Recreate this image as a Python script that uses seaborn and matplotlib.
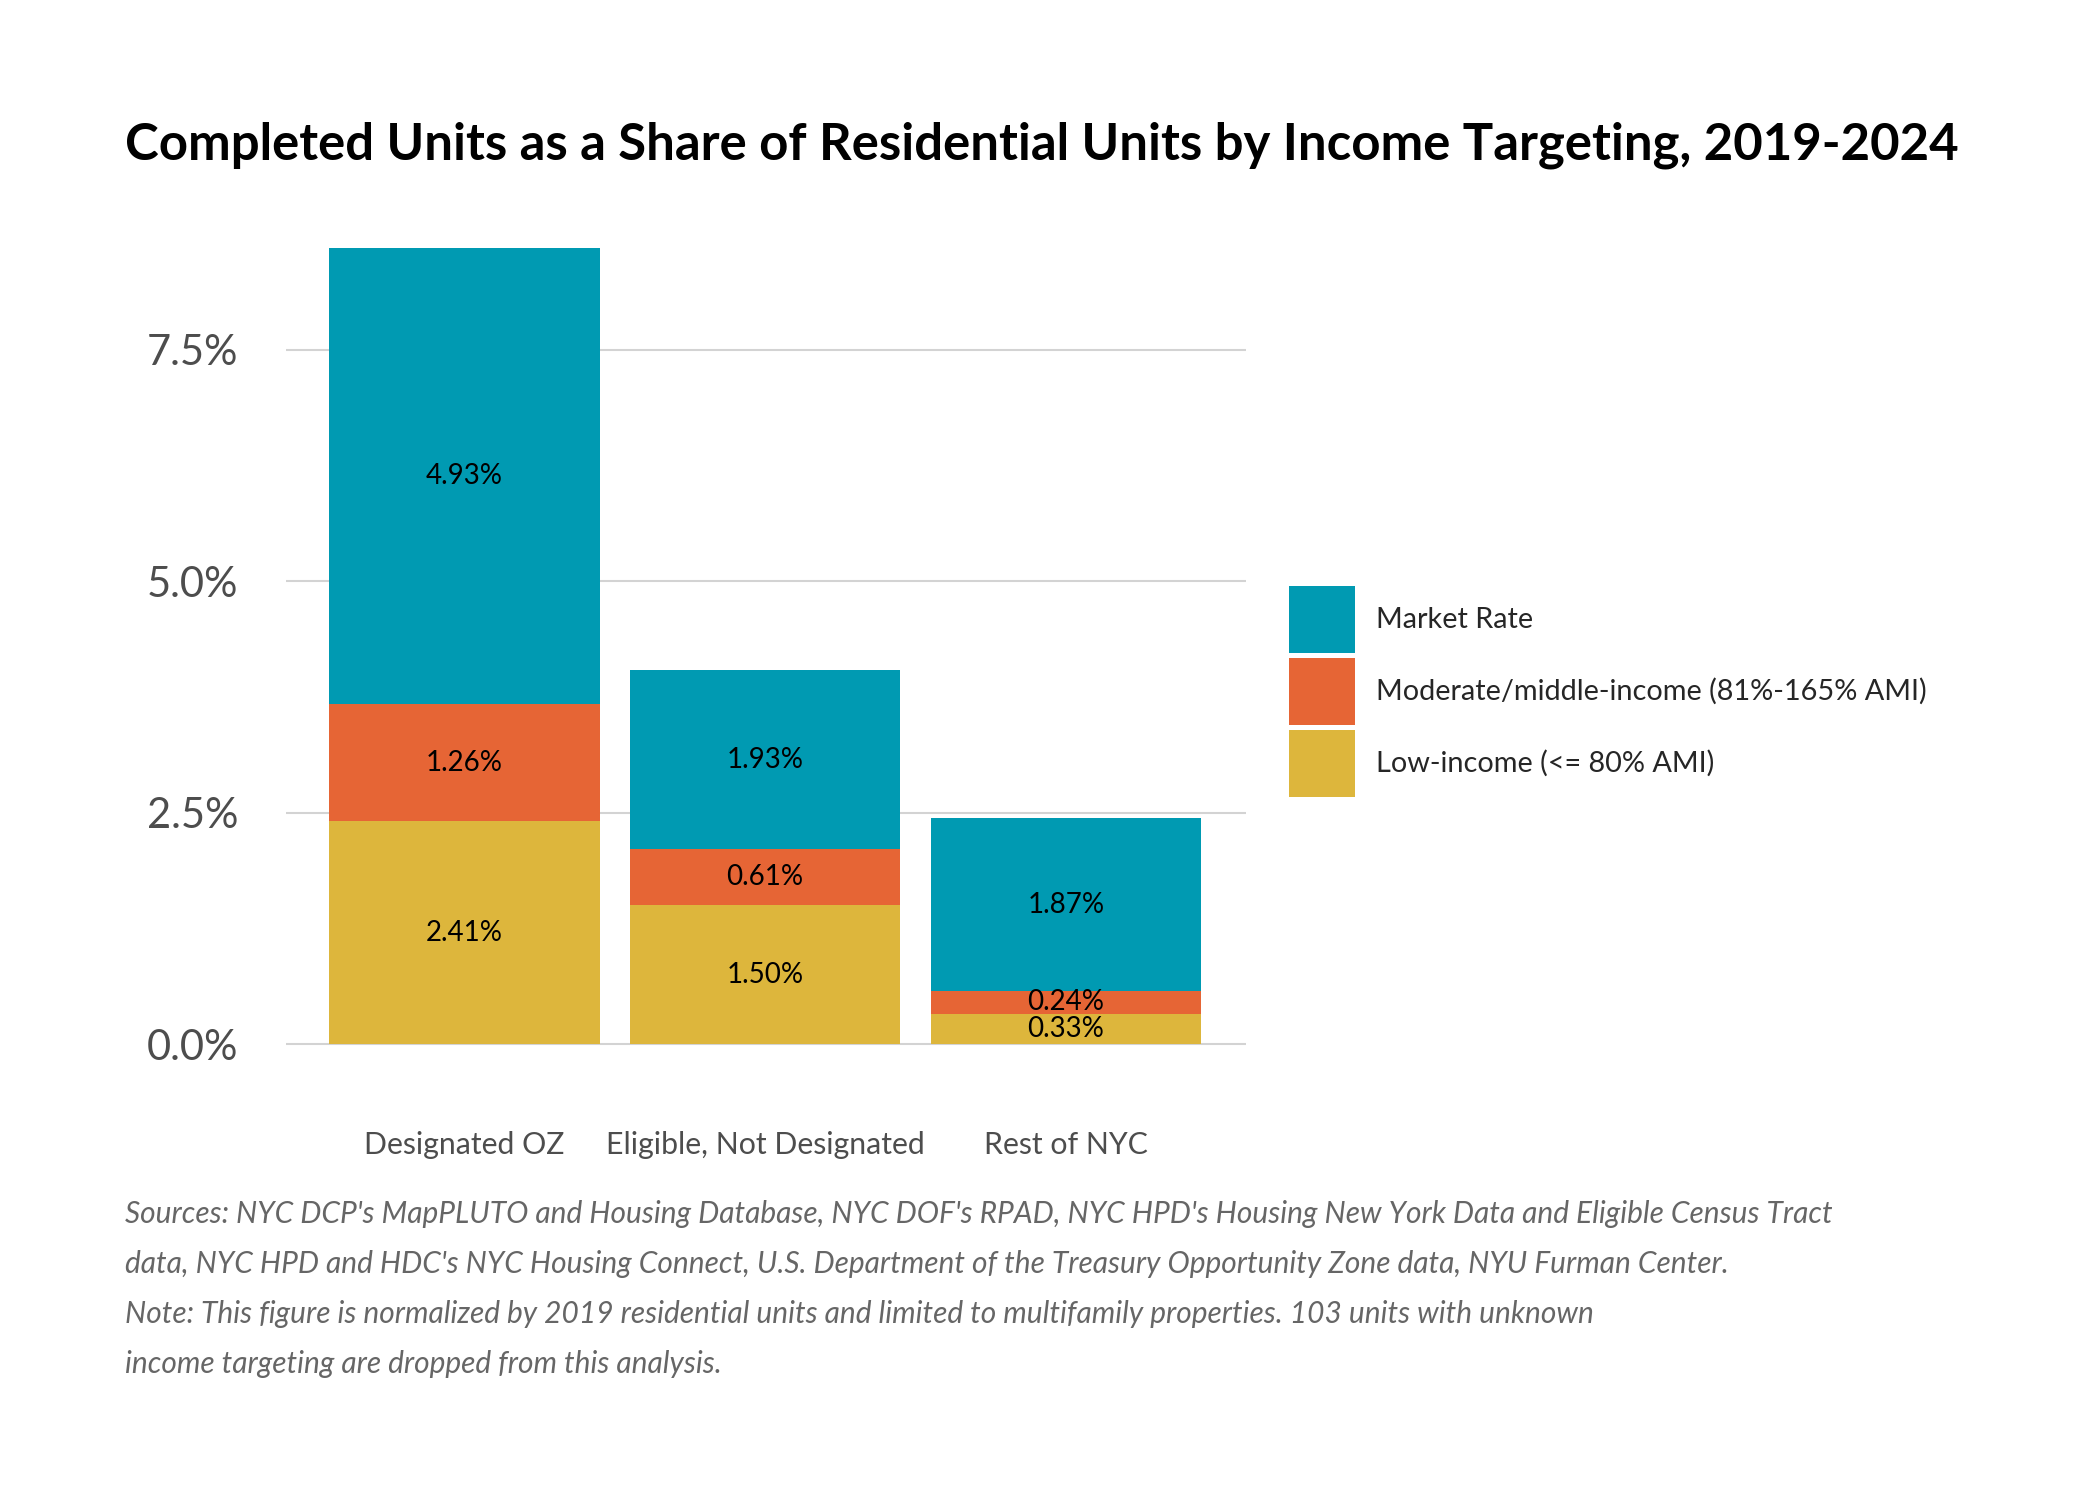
import matplotlib
matplotlib.use("Agg")
import matplotlib.pyplot as plt
import matplotlib.patches as mpatches
import seaborn as sns
import numpy as np
import pandas as pd

CATEGORIES = ["Designated OZ", "Eligible, Not Designated", "Rest of NYC"]
LOW_INCOME = [2.41, 1.50, 0.33]
MODERATE = [1.26, 0.61, 0.24]
MARKET_RATE = [4.93, 1.93, 1.87]
SERIES = ["Market Rate", "Moderate/middle-income (81%-165% AMI)", "Low-income (<= 80% AMI)"]
Y_TICKS = [0.0, 2.5, 5.0, 7.5]

TEAL = "#009AB2"
ORANGE = "#E66535"
YELLOW = "#DDB63C"

TITLE = "Completed Units as a Share of Residential Units by Income Targeting, 2019-2024"
NOTE = ("Sources: NYC DCP's MapPLUTO and Housing Database, NYC DOF's RPAD, NYC HPD's Housing New York Data and Eligible Census Tract\n"
        "data, NYC HPD and HDC's NYC Housing Connect, U.S. Department of the Treasury Opportunity Zone data, NYU Furman Center.\n"
        "Note: This figure is normalized by 2019 residential units and limited to multifamily properties. 103 units with unknown\n"
        "income targeting are dropped from this analysis.")


def main():
    sns.set_theme(style="white")
    plt.rcParams["font.family"] = ["Lato", "DejaVu Sans"]

    df = pd.DataFrame({
        "category": CATEGORIES,
        "low": LOW_INCOME,
        "moderate": MODERATE,
        "market": MARKET_RATE,
    })
    df["low_mod"] = df["low"] + df["moderate"]
    df["total"] = df["low_mod"] + df["market"]

    fig = plt.figure(figsize=(21, 15), dpi=100)
    ax = fig.add_axes([0.136, 0.2774, 0.4575, 0.5837])

    # stack by drawing tallest first
    for col, colour, z in (("total", TEAL, 2), ("low_mod", ORANGE, 3), ("low", YELLOW, 4)):
        sns.barplot(data=df, x="category", y=col, color=colour, saturation=1,
                    width=0.9, errorbar=None, ax=ax, zorder=z, linewidth=0,
                    edgecolor="none")

    for i, row in df.iterrows():
        segs = [(0, row["low"]), (row["low"], row["moderate"]), (row["low_mod"], row["market"])]
        for base, val in segs:
            ax.text(i, base + val / 2, f"{val:.2f}%", ha="center", va="center",
                    fontsize=20, color="black", zorder=5)

    ax.set_xlim(-0.594, 2.60)
    ax.set_ylim(-0.43, 9.03)
    ax.set_yticks(Y_TICKS)
    ax.set_yticklabels([f"{t:.1f}%" for t in Y_TICKS])
    ax.yaxis.grid(True, color="#d3d3d3", linewidth=1.5, zorder=0)
    ax.xaxis.grid(False)
    ax.set_axisbelow(True)
    for s in ax.spines.values():
        s.set_visible(False)
    ax.set_xlabel("")
    ax.set_ylabel("")
    ax.tick_params(axis="y", labelsize=30, labelcolor="#4d4d4d", length=0, pad=34)
    ax.tick_params(axis="x", labelsize=21.8, labelcolor="#4d4d4d", length=0, pad=34)

    handles = [mpatches.Patch(color=c, linewidth=0) for c in (TEAL, ORANGE, YELLOW)]
    fig.legend(handles, SERIES, loc="center left", bbox_to_anchor=(0.6137, 0.539),
               frameon=False, fontsize=20.8, handlelength=2.28, handleheight=3.24,
               labelspacing=0.14, handletextpad=0.75, borderpad=0, borderaxespad=0)

    fig.text(0.0595, 0.903, TITLE, fontsize=36.6, fontweight="bold", color="black",
             ha="left", va="center")
    fig.text(0.0595, 0.2, NOTE, fontsize=21.5, style="italic", color="#666666",
             ha="left", va="top", linespacing=1.95)

    fig.savefig("out.png", dpi=100, facecolor="white")
    plt.close(fig)


if __name__ == "__main__":
    main()
